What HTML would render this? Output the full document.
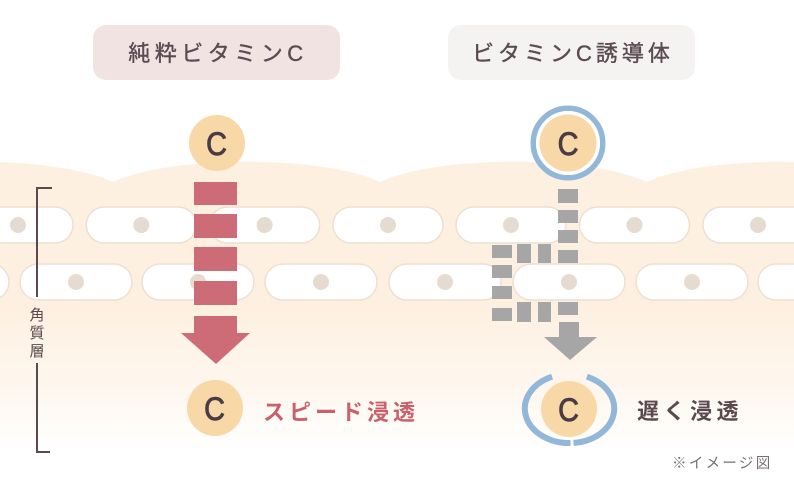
<!DOCTYPE html>
<html>
<head>
<meta charset="utf-8">
<style>
  html,body{margin:0;padding:0;background:#fff;}
  body{width:794px;height:482px;overflow:hidden;}
  svg{display:block;}
  .jp{font-family:"Liberation Sans","Noto Sans CJK JP",sans-serif;}
  .cc{font-family:"Liberation Sans",sans-serif;}
</style>
</head>
<body>
<svg width="794" height="482" viewBox="0 0 794 482" xmlns="http://www.w3.org/2000/svg">
  <defs>
    <linearGradient id="skin" x1="0" y1="160" x2="0" y2="450" gradientUnits="userSpaceOnUse">
      <stop offset="0" stop-color="#fdf0e1"/>
      <stop offset="0.5" stop-color="#fdf0e1"/>
      <stop offset="0.8" stop-color="#fef7ef"/>
      <stop offset="1" stop-color="#ffffff"/>
    </linearGradient>
  </defs>

  <!-- skin background -->
  <path d="M-154,182 C-97,155 56,155 113,182 C170,155 323,155 380,182 C437,155 590,155 647,182 C704,155 857,155 914,182 L914,482 L-154,482 Z" fill="url(#skin)"/>

  <!-- row 1 cells -->
  <g fill="#ffffff" stroke="#eddfd1" stroke-width="1.5">
    <rect x="-37" y="207" width="110" height="36" rx="18"/>
    <rect x="86.3" y="207" width="110" height="36" rx="18"/>
    <rect x="209.6" y="207" width="110" height="36" rx="18"/>
    <rect x="333" y="207" width="110" height="36" rx="18"/>
    <rect x="456" y="207" width="110" height="36" rx="18"/>
    <rect x="579.5" y="207" width="110" height="36" rx="18"/>
    <rect x="703" y="207" width="110" height="36" rx="18"/>
  </g>
  <g fill="#e6dbd0">
    <circle cx="18" cy="225" r="8"/>
    <circle cx="141.3" cy="225" r="8"/>
    <circle cx="264.6" cy="225" r="8"/>
    <circle cx="388" cy="225" r="8"/>
    <circle cx="511" cy="225" r="8"/>
    <circle cx="634.5" cy="225" r="8"/>
    <circle cx="758" cy="225" r="8"/>
  </g>

  <!-- row 2 cells -->
  <g fill="#ffffff" stroke="#eddfd1" stroke-width="1.5">
    <rect x="-103" y="264" width="112" height="36" rx="18"/>
    <rect x="20" y="264" width="112" height="36" rx="18"/>
    <rect x="142" y="264" width="112" height="36" rx="18"/>
    <rect x="265" y="264" width="112" height="36" rx="18"/>
    <rect x="389" y="264" width="112" height="36" rx="18"/>
    <rect x="513" y="264" width="112" height="36" rx="18"/>
    <rect x="636" y="264" width="112" height="36" rx="18"/>
    <rect x="758" y="264" width="112" height="36" rx="18"/>
  </g>
  <g fill="#e6dbd0">
    <circle cx="-47" cy="282" r="8"/>
    <circle cx="76" cy="282" r="8"/>
    <circle cx="198" cy="282" r="8"/>
    <circle cx="321" cy="282" r="8"/>
    <circle cx="445" cy="282" r="8"/>
    <circle cx="569" cy="282" r="8"/>
    <circle cx="692" cy="282" r="8"/>
    <circle cx="814" cy="282" r="8"/>
  </g>

  <!-- bracket 角質層 -->
  <g stroke="#5a4a50" stroke-width="2" fill="none">
    <polyline points="52,188 37,188 37,297"/>
    <polyline points="37,363 37,452 50,452"/>
  </g>
  <g class="jp" font-size="15" fill="#5a4a50" text-anchor="middle">
    <text x="37" y="320">角</text>
    <text x="37" y="338">質</text>
    <text x="37" y="356">層</text>
  </g>

  <!-- pills -->
  <rect x="93" y="25" width="247" height="55" rx="13" fill="#f2e3e3"/>
  <text x="218" y="61" class="jp" font-size="22" letter-spacing="4.5" fill="#5b4b53" stroke="#5b4b53" stroke-width="0.4" text-anchor="middle">純粋ビタミンC</text>
  <rect x="448" y="25" width="247" height="55" rx="13" fill="#f5f3f1"/>
  <text x="573" y="61" class="jp" font-size="22" letter-spacing="4" fill="#5b4b53" stroke="#5b4b53" stroke-width="0.4" text-anchor="middle">ビタミンC誘導体</text>

  <!-- left: pure vitamin C -->
  <circle cx="217" cy="143" r="28" fill="#f8d8a6"/>
  <text transform="translate(216.5,155) scale(0.9,1)" x="0" y="0" class="cc" font-size="32" fill="#4a3c44" stroke="#4a3c44" stroke-width="0.9" text-anchor="middle">C</text>
  <g fill="#cd6c77">
    <rect x="194" y="182" width="43" height="23"/>
    <rect x="194" y="214" width="43" height="24"/>
    <rect x="194" y="247" width="43" height="24"/>
    <rect x="194" y="281" width="43" height="24"/>
    <rect x="194" y="316" width="43" height="18"/>
    <polygon points="181,333 250,333 216,364"/>
  </g>
  <circle cx="215" cy="408" r="28" fill="#f8d8a6"/>
  <text transform="translate(214.5,420) scale(0.9,1)" x="0" y="0" class="cc" font-size="32" fill="#4a3c44" stroke="#4a3c44" stroke-width="0.9" text-anchor="middle">C</text>
  <text x="263" y="420" class="jp" font-size="22" font-weight="bold" letter-spacing="4" fill="#c9606c">スピード浸透</text>

  <!-- right: derivative -->
  <circle cx="568" cy="143" r="34.75" fill="none" stroke="#93b7d8" stroke-width="5.5"/>
  <circle cx="568" cy="143" r="32" fill="#ffffff"/>
  <circle cx="568" cy="143" r="28.5" fill="#f8d8a6"/>
  <text transform="translate(568,155) scale(0.9,1)" x="0" y="0" class="cc" font-size="32" fill="#4a3c44" stroke="#4a3c44" stroke-width="0.9" text-anchor="middle">C</text>

  <g fill="#a6a6a6">
    <!-- right column -->
    <rect x="558" y="189" width="20" height="14"/>
    <rect x="558" y="210" width="20" height="13"/>
    <rect x="558" y="230" width="20" height="13"/>
    <rect x="558" y="250" width="20" height="13"/>
    <rect x="558" y="302" width="20" height="13"/>
    <!-- top horizontal -->
    <rect x="517" y="244" width="14" height="19"/>
    <rect x="538" y="244" width="13" height="19"/>
    <!-- left column -->
    <rect x="492" y="245" width="20" height="13"/>
    <rect x="492" y="265" width="20" height="13"/>
    <rect x="492" y="286" width="20" height="13"/>
    <rect x="492" y="308" width="20" height="13"/>
    <!-- bottom horizontal -->
    <rect x="517" y="302" width="14" height="20"/>
    <rect x="538" y="302" width="13" height="20"/>
    <!-- arrow -->
    <rect x="559" y="322" width="20" height="16"/>
    <polygon points="544,337 597,337 570,360"/>
  </g>

  <!-- bottom broken ring -->
  <g fill="none" stroke="#93b7d8" stroke-width="6">
    <path d="M552.1,376.7 A44.5,34.5 0 0,0 570.5,443"/>
    <path d="M586.9,376.7 A44.5,34.5 0 0,1 573.5,442.9"/>
  </g>
  <circle cx="569" cy="409" r="28" fill="#f8d8a6"/>
  <text transform="translate(568.5,421) scale(0.9,1)" x="0" y="0" class="cc" font-size="32" fill="#4a3c44" stroke="#4a3c44" stroke-width="0.9" text-anchor="middle">C</text>
  <text x="637" y="419" class="jp" font-size="22" font-weight="bold" letter-spacing="4.5" fill="#5a4a50">遅く浸透</text>

  <text x="672" y="468" class="jp" font-size="14.5" letter-spacing="2.3" fill="#7a7072">※イメージ図</text>
</svg>
</body>
</html>
